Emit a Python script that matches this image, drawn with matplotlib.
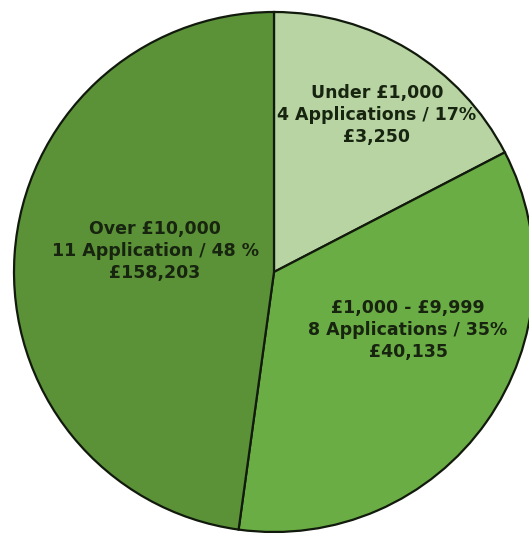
import matplotlib.pyplot as plt

# data
bands = ['Under £1,000', '£1,000 - £9,999', 'Over £10,000']
applications = [4, 8, 11]
percent_text = ['4 Applications / 17%', '8 Applications / 35%', '11 Application / 48 %']
amounts = ['£3,250', '£40,135', '£158,203']
colours = ['#b7d4a2', '#6bad45', '#5b9237']

plt.rcParams['font.family'] = ['DejaVu Sans']

W, H = 529, 536
fig = plt.figure(figsize=(W / 100, H / 100), dpi=100)
ax = fig.add_axes([0, 0, 1, 1])

# pie drawn in pixel space, clockwise from 12 o'clock
ax.pie(applications, colors=colours, startangle=90, counterclock=False,
       center=(274, H - 272), radius=260, frame=True,
       wedgeprops={'edgecolor': '#111a0c', 'linewidth': 1.6})
ax.set_xlim(0, W)
ax.set_ylim(0, H)
ax.set_aspect('equal')
ax.axis('off')

# label positions (pixels from top-left)
label_pos = [(377, 115), (408, 330), (155, 251)]
for band, pct, amt, (x, y) in zip(bands, percent_text, amounts, label_pos):
    ax.text(x, H - y, f'{band}\n{pct}\n{amt}', ha='center', va='center',
            fontsize=12.5, fontweight='bold', color='#17240f', linespacing=1.32)

fig.savefig('out.png', dpi=100)
